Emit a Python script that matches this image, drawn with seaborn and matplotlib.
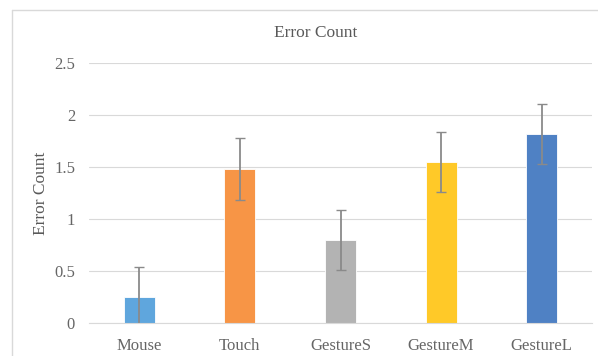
import pandas as pd
import matplotlib
matplotlib.use("Agg")
import matplotlib.pyplot as plt
import seaborn as sns
from matplotlib.lines import Line2D

# data
devices = ['Mouse', 'Touch', 'GestureS', 'GestureM', 'GestureL']
error_count = [0.25, 1.48, 0.80, 1.55, 1.82]
error_sd = [0.29, 0.30, 0.29, 0.29, 0.29]
bar_colors = ['#5FA6DD', '#F79546', '#B3B3B3', '#FFC928', '#4F81C4']

df = pd.DataFrame({'device': devices, 'errors': error_count, 'sd': error_sd})

sns.set_theme(style='white')
plt.rcParams['font.family'] = ['Liberation Serif', 'DejaVu Serif']

fig = plt.figure(figsize=(5.98, 3.56), dpi=100)
ax = fig.add_axes([89 / 598, 1 - 323 / 356, (592 - 89) / 598, (323 - 63) / 356])

sns.barplot(data=df, x='device', y='errors', hue='device', palette=bar_colors,
            width=0.31, errorbar=None, legend=False, ax=ax, saturation=1,
            edgecolor='white', linewidth=0.6)
ax.errorbar(range(len(devices)), df['errors'], yerr=df['sd'], fmt='none',
            ecolor='#8A8A8A', elinewidth=1.3, capsize=3.5, capthick=1.0)

ax.set_ylim(0, 2.5)
ax.set_xlim(-0.5, 4.5)
ax.set_yticks([0, 0.5, 1, 1.5, 2, 2.5])
ax.set_yticklabels(['0', '0.5', '1', '1.5', '2', '2.5'])
ax.yaxis.grid(True, color='#D9D9D9', linewidth=0.8)
ax.set_axisbelow(True)
for s in ['top', 'right', 'left']:
    ax.spines[s].set_visible(False)
ax.spines['bottom'].set_color('#D9D9D9')
ax.spines['bottom'].set_linewidth(0.8)
ax.tick_params(axis='both', length=0, labelsize=12, colors='#666666')
ax.tick_params(axis='x', pad=11)
ax.tick_params(axis='y', pad=10)
ax.set_xlabel('')
ax.set_ylabel('Error Count', fontsize=12.5, color='#595959')
ax.yaxis.set_label_coords((49 - 89) / 503, (323 - 193) / 260)

fig.text(316 / 598, 1 - 33 / 356, 'Error Count', ha='center', va='center',
         fontsize=12.5, color='#595959')

# outer chart border (top and left edge visible)
fig.add_artist(Line2D([12 / 598, 1], [1 - 10 / 356] * 2, color='#D9D9D9', lw=1))
fig.add_artist(Line2D([12 / 598] * 2, [0, 1 - 10 / 356], color='#D9D9D9', lw=1))

fig.savefig('out.png', dpi=100)
